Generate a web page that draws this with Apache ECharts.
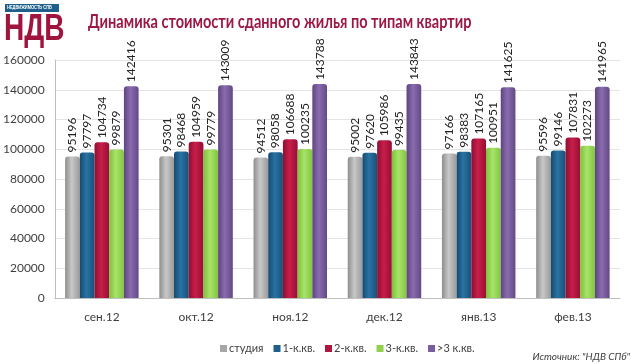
<!DOCTYPE html>
<html><head><meta charset="utf-8">
<script src="https://cdn.jsdelivr.net/npm/echarts@6/dist/echarts.min.js"></script>
<style>html,body{margin:0;padding:0;background:#fff}#c{width:640px;height:364px}</style>
</head><body><div id="c"></div>
<script>
const categories = ['сен.12','окт.12','ноя.12','дек.12','янв.13','фев.13'];
const seriesNames = ['студия','1-к.кв.','2-к.кв.','3-к.кв.','>3 к.кв.'];
const studio = [95196, 95301, 94512, 95002, 97166, 95596];
const room1 = [97797, 98468, 98058, 97620, 98383, 99146];
const room2 = [104734, 104959, 106688, 105986, 107165, 107831];
const room3 = [99879, 99779, 100235, 99435, 100951, 102273];
const room4plus = [142416, 143009, 143788, 143843, 141625, 141965];
const yTicks = [0, 20000, 40000, 60000, 80000, 100000, 120000, 140000, 160000];
const titleText = 'Динамика стоимости сданного жилья по типам квартир';

const colors = [
  ['#8e8e8e','#c8c8c8','#9a9a9a'],
  ['#154a70','#2a73a3','#17507a'],
  ['#8e0f30','#c91d4a','#960f33'],
  ['#7cc03a','#a8e36a','#82c540'],
  ['#5e4480','#8a6cae','#634886']
];
const legendColors = ['#a6a6a6','#1f5f8b','#b0173f','#92d050','#7b5c9e'];
const datasets = [studio, room1, room2, room3, room4plus];

const chart = echarts.init(document.getElementById('c'));
chart.setOption({
  animation: false,
  grid: {left: 50, right: 20, top: 60, bottom: 66},
  legend: {
    bottom: 5, left: 215,
    itemWidth: 7, itemHeight: 7, itemGap: 10,
    icon: 'rect',
    textStyle: {color: '#404040', fontSize: 11, fontFamily: 'Lato', padding: [0,0,0,-3]},
    data: seriesNames.map((n,i)=>({name:n, itemStyle:{color: legendColors[i]}}))
  },
  xAxis: {
    type: 'category', data: categories,
    axisLine: {lineStyle: {color: '#bfbfbf'}},
    axisTick: {show: false},
    axisLabel: {color: '#404040', fontSize: 12, fontFamily: 'Lato', margin: 13}
  },
  yAxis: {
    type: 'value', min: 0, max: 160000, interval: 20000,
    axisLine: {show: true, lineStyle: {color: '#bfbfbf'}},
    axisTick: {show: false},
    axisLabel: {color: '#404040', fontSize: 12, fontFamily: 'Lato', margin: 10,
      formatter: v => String(v)},
    splitLine: {lineStyle: {color: '#e4e4e4'}}
  },
  graphic: [
    {type: 'text', x: 88, y: 12, scaleX: 0.765, style: {text: titleText, fill: '#9c1843', font: 'bold 19px Lato'}},
    {type: 'rect', left: 5, top: 4, shape: {width: 54, height: 8}, style: {fill: '#1f5f8b'}},
    {type: 'text', x: 7, y: 5.5, scaleX: 0.8, style: {text: 'НЕДВИЖИМОСТЬ СПБ', fill: '#fff', font: 'bold 5px Liberation Sans'}},
    {type: 'text', x: 4, y: 12, scaleX: 0.78, style: {text: 'НДВ', fill: '#a0153e', font: 'bold 36px Liberation Sans'}},
    {type: 'text', right: 10, bottom: 2, style: {text: 'Источник: "НДВ СПб"', fill: '#404040', font: 'italic 10px Lato'}}
  ],
  series: datasets.map((d,i)=>({
    name: seriesNames[i], type: 'bar', data: d,
    barGap: '0%', barCategoryGap: '22%',
    itemStyle: {
      color: new echarts.graphic.LinearGradient(0,0,1,0,[
        {offset:0,color:colors[i][0]},{offset:0.45,color:colors[i][1]},{offset:1,color:colors[i][2]}
      ]),
      borderRadius: [3,3,0,0]
    },
    label: {
      show: true, position: 'top', rotate: 90, align: 'left', verticalAlign: 'middle',
      distance: 4, color: '#222', fontSize: 12, fontFamily: 'Lato'
    }
  }))
});
</script></body></html>
